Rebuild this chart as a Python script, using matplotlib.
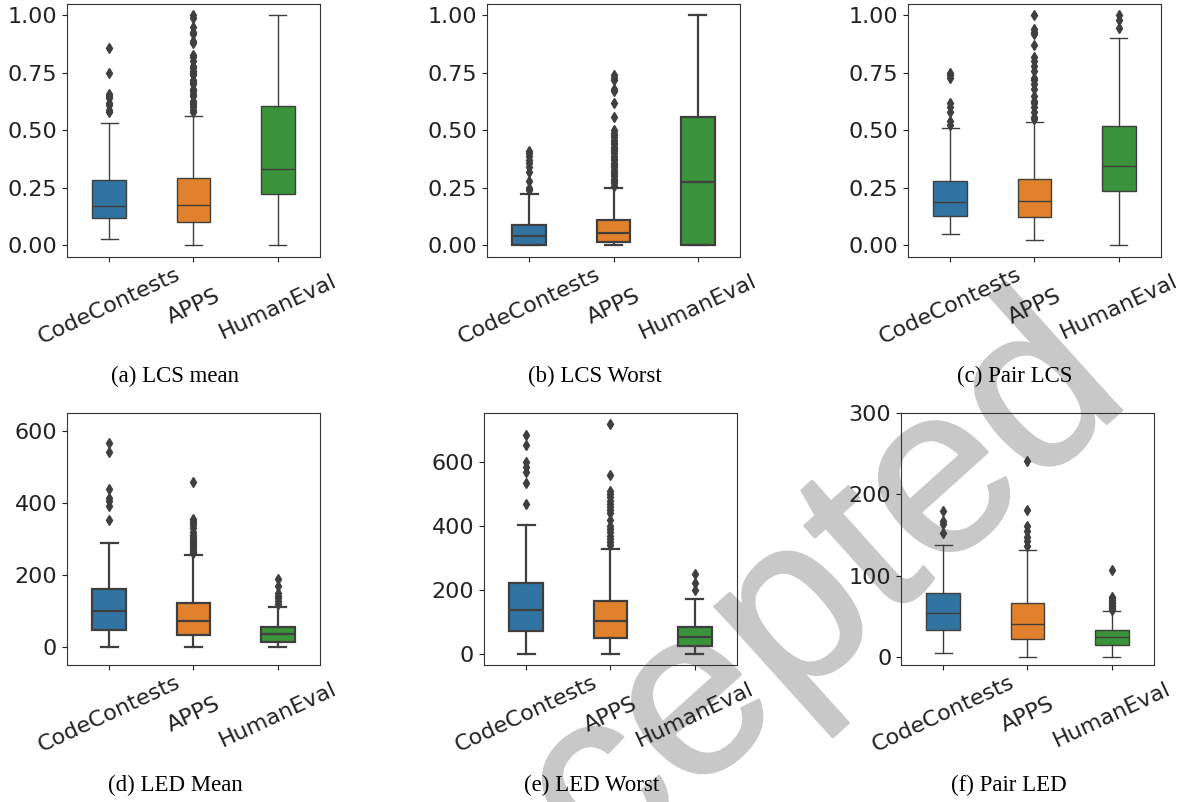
#!/usr/bin/env python
import matplotlib
matplotlib.use("Agg")
import matplotlib.pyplot as plt
import matplotlib.patheffects as pe

# Datasets on the x axis
datasets = ["CodeContests", "APPS", "HumanEval"]
colors = ["#3274a1", "#e1812c", "#3a923a"]

# Box summaries: (whislo, q1, med, q3, whishi)
lcs_mean_box = [(0.026, 0.119, 0.170, 0.286, 0.534),
                (0.0, 0.104, 0.178, 0.292, 0.562),
                (0.0, 0.225, 0.334, 0.605, 1.0)]
lcs_mean_out = [[0.58, 0.59, 0.61, 0.62, 0.64, 0.65, 0.66, 0.75, 0.86],
                [0.58, 0.59, 0.60, 0.61, 0.62, 0.63, 0.65, 0.66, 0.67, 0.68,
                 0.70, 0.71, 0.72, 0.74, 0.75, 0.76, 0.77, 0.78, 0.80, 0.82,
                 0.83, 0.88, 0.89, 0.92, 0.93, 0.95, 0.99, 1.0],
                []]

lcs_worst_box = [(0.0, 0.0, 0.039, 0.090, 0.222),
                 (0.0, 0.017, 0.054, 0.109, 0.25),
                 (0.0, 0.0, 0.274, 0.559, 1.0)]
lcs_worst_out = [[0.24, 0.25, 0.28, 0.32, 0.34, 0.36, 0.37, 0.39, 0.40, 0.41],
                 [0.26, 0.27, 0.28, 0.29, 0.30, 0.31, 0.32, 0.33, 0.34, 0.35,
                  0.36, 0.37, 0.38, 0.39, 0.40, 0.41, 0.42, 0.43, 0.44, 0.45,
                  0.46, 0.47, 0.48, 0.49, 0.50, 0.56, 0.62, 0.67, 0.68, 0.72,
                  0.73, 0.74],
                 []]

pair_lcs_box = [(0.048, 0.126, 0.189, 0.282, 0.509),
                (0.025, 0.123, 0.193, 0.289, 0.536),
                (0.0, 0.235, 0.347, 0.518, 0.90)]
pair_lcs_out = [[0.525, 0.54, 0.58, 0.60, 0.62, 0.73, 0.74, 0.75],
                [0.55, 0.56, 0.58, 0.60, 0.62, 0.63, 0.65, 0.68, 0.70, 0.72,
                 0.73, 0.76, 0.78, 0.80, 0.82, 0.87, 0.92, 0.93, 0.94, 1.0],
                [0.946, 0.98, 1.0]]

led_mean_box = [(0, 46, 99, 161, 289),
                (0, 32, 71, 123, 255),
                (0, 14, 35, 55, 112)]
led_mean_out = [[352, 391, 405, 415, 438, 543, 568],
                [262, 265, 270, 275, 280, 285, 290, 295, 300, 305, 310, 320,
                 330, 340, 345, 350, 356, 459],
                [120, 127, 135, 141, 150, 170, 190]]

led_worst_box = [(0, 70, 136, 220, 403),
                 (0, 50, 103, 164, 329),
                 (0, 23, 51, 83, 171)]
led_worst_out = [[469, 534, 571, 586, 602, 654, 686],
                 [340, 350, 360, 370, 380, 390, 400, 420, 440, 450, 460, 470,
                  480, 490, 500, 510, 562, 719],
                 [200, 223, 250]]

pair_led_box = [(4.5, 33, 54, 78, 138),
                (0, 22, 40, 66, 131),
                (0, 15, 24, 33, 56)]
pair_led_out = [[153, 163, 167, 179],
                [136, 142, 148, 155, 161, 181, 241],
                [58, 60, 62, 64, 66, 68, 70, 72, 74, 107]]

captions = ["(a) LCS mean", "(b) LCS Worst", "(c) Pair LCS",
            "(d) LED Mean", "(e) LED Worst", "(f) Pair LED"]
panels = [(lcs_mean_box, lcs_mean_out), (lcs_worst_box, lcs_worst_out),
          (pair_lcs_box, pair_lcs_out), (led_mean_box, led_mean_out),
          (led_worst_box, led_worst_out), (pair_led_box, pair_led_out)]
yticks = [[0, 0.25, 0.5, 0.75, 1.0]] * 3 + [[0, 200, 400, 600]] * 2 + [[0, 100, 200, 300]]
ylims = [None, None, None, (-50, 650), None, (-10, 300)]

# axes rectangles (left, bottom, width, height) and caption spots
rects = [(0.0566, 0.6796, 0.2139, 0.3155), (0.4117, 0.6796, 0.2139, 0.3155),
         (0.7675, 0.6796, 0.2139, 0.3155), (0.0566, 0.1708, 0.2139, 0.3142),
         (0.4091, 0.1708, 0.2139, 0.3142), (0.7616, 0.1708, 0.2139, 0.3142)]
cap_pos = [(0.148, 0.530), (0.503, 0.530), (0.858, 0.530),
           (0.148, 0.021), (0.500, 0.021), (0.853, 0.021)]
line_w = [1.0, 1.6, 1.0, 1.6, 1.6, 1.0]

fig = plt.figure(figsize=(11.83, 8.02), dpi=100)
gray = "#3f3f3f"

# the "Accepted" watermark behind everything, anchored at the foot of the "d"
fig.text(1133 / 1183, 1 - 400 / 802, "Accepted", fontsize=172, rotation=42,
         rotation_mode="anchor", color="#c8c8c8", zorder=-5,
         ha="right", va="baseline", family="Liberation Sans",
         path_effects=[pe.withStroke(linewidth=2.0, foreground="#c8c8c8")])

for i, (boxes, outs) in enumerate(panels):
    ax = fig.add_axes(rects[i])
    ax.set_facecolor("none")
    stats = []
    for (lo, q1, med, q3, hi), fl in zip(boxes, outs):
        stats.append(dict(whislo=lo, q1=q1, med=med, q3=q3, whishi=hi, fliers=fl))
    lw = line_w[i]
    parts = ax.bxp(stats, positions=[0, 1, 2], widths=0.4, patch_artist=True,
                   boxprops=dict(edgecolor=gray, linewidth=lw),
                   medianprops=dict(color=gray, linewidth=lw),
                   whiskerprops=dict(color=gray, linewidth=lw),
                   capprops=dict(color=gray, linewidth=lw),
                   flierprops=dict(marker="d", markerfacecolor=gray,
                                   markeredgecolor=gray, markersize=5.5))
    for patch, c in zip(parts["boxes"], colors):
        patch.set_facecolor(c)
    ax.set_xlim(-0.5, 2.5)
    if ylims[i] is not None:
        ax.set_ylim(*ylims[i])
    ax.set_yticks(yticks[i])
    if i < 3:
        ax.set_yticklabels(["%.2f" % t for t in yticks[i]])
    ax.set_xticks([0, 1, 2])
    ax.set_xticklabels(datasets, rotation=25, va="center")
    ax.tick_params(labelsize=16, colors="#222222")
    ax.tick_params(axis="x", pad=32)
    for s in ax.spines.values():
        s.set_color("#333333")
    fig.text(cap_pos[i][0], cap_pos[i][1], captions[i], ha="center",
             va="center", fontsize=16.5, family="Liberation Serif")

fig.savefig("out.png", dpi=100)
